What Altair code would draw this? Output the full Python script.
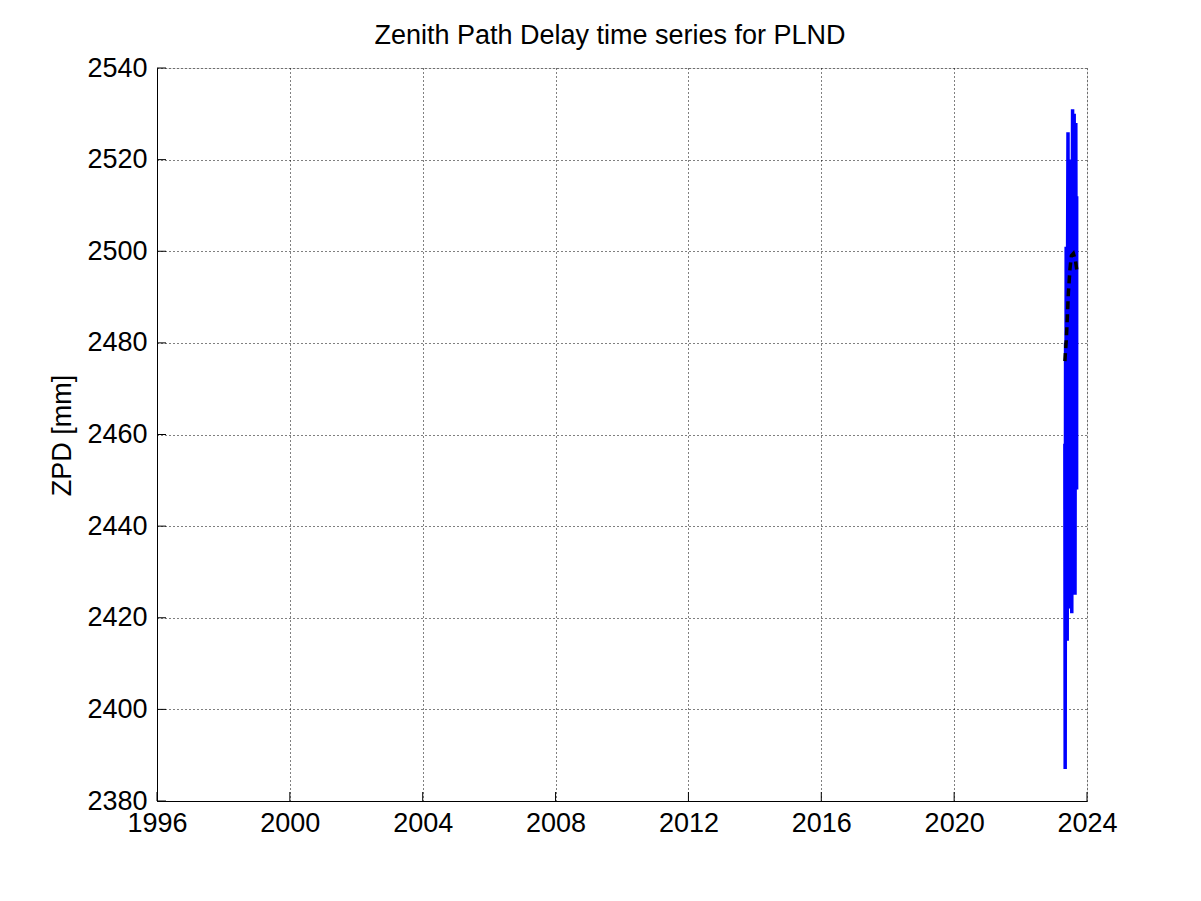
import altair as alt
import pandas as pd

# ZPD series (decimal year, mm)
zpd_time = [2023.334, 2023.343, 2023.355, 2023.364, 2023.373, 2023.386, 2023.395, 2023.404,
            2023.416, 2023.428, 2023.440, 2023.449, 2023.461, 2023.470, 2023.482, 2023.494,
            2023.506, 2023.518, 2023.530, 2023.542, 2023.554, 2023.566, 2023.578, 2023.590,
            2023.602, 2023.614, 2023.627, 2023.639, 2023.651, 2023.663, 2023.675, 2023.687,
            2023.689]
zpd_value = [2458, 2387, 2480, 2430, 2501, 2440, 2470, 2415,
             2500, 2526, 2460, 2431, 2490, 2520, 2450, 2422,
             2480, 2510, 2440, 2421, 2500, 2531, 2470, 2425,
             2490, 2530, 2460, 2425, 2505, 2528, 2470, 2448,
             2512]

# smoothed trend (black dashed)
trend_time = [2023.334, 2023.380, 2023.410, 2023.440, 2023.485, 2023.530, 2023.590, 2023.651, 2023.711]
trend_value = [2476, 2481, 2486, 2491, 2496, 2499, 2499.5, 2498, 2495]

x_ticks = [1996, 2000, 2004, 2008, 2012, 2016, 2020, 2024]
y_ticks = [2380, 2400, 2420, 2440, 2460, 2480, 2500, 2520, 2540]

W, H = 930, 733
FONT = "Liberation Sans"

xs = alt.Scale(domain=[1996, 2024], nice=False, zero=False)
ys = alt.Scale(domain=[2380, 2540], nice=False, zero=False)

zpd = pd.DataFrame({"t": zpd_time, "v": zpd_value})
trend = pd.DataFrame({"t": trend_time, "v": trend_value})
xt = pd.DataFrame({"t": x_ticks})
yt = pd.DataFrame({"v": y_ticks})

xaxis = alt.Axis(values=x_ticks, format="d", grid=True, gridDash=[1, 3], gridColor="black",
                 gridOpacity=1, gridWidth=1, ticks=False, tickSize=0, domain=True,
                 domainColor="black", domainWidth=1, labelFont=FONT, labelFontSize=27,
                 labelColor="black", labelPadding=9, labelFlush=False, labelOverlap=False,
                 title=None)
yaxis = alt.Axis(values=y_ticks, format="d", grid=True, gridDash=[1, 3], gridColor="black",
                 gridOpacity=1, gridWidth=1, ticks=False, tickSize=0, domain=True,
                 domainColor="black", domainWidth=1, labelFont=FONT, labelFontSize=27,
                 labelColor="black", labelPadding=10, labelFlush=False, labelOverlap=False,
                 title="ZPD [mm]", titleFont=FONT, titleFontSize=27, titleFontWeight="normal",
                 titleColor="black", titleAngle=270, titleX=-95, titleY=367,
                 titleAlign="center", titleBaseline="middle")

line = alt.Chart(zpd).mark_line(color="#0000ff", strokeWidth=3.5, clip=True).encode(
    x=alt.X("t:Q", scale=xs, axis=xaxis),
    y=alt.Y("v:Q", scale=ys, axis=yaxis),
    order=alt.Order("t:Q"),
)

trend_line = alt.Chart(trend).mark_line(color="black", strokeWidth=3.5,
                                        strokeDash=[8, 5]).encode(
    x=alt.X("t:Q", scale=xs),
    y=alt.Y("v:Q", scale=ys),
)

xtick = alt.Chart(xt).mark_rule(color="black", strokeWidth=1).encode(
    x=alt.X("t:Q", scale=xs),
    y=alt.value(H),
    y2=alt.value(H - 9),
)
ytick = alt.Chart(yt).mark_rule(color="black", strokeWidth=1).encode(
    y=alt.Y("v:Q", scale=ys),
    x=alt.value(0),
    x2=alt.value(9),
)

title = alt.Chart(pd.DataFrame({"s": ["Zenith Path Delay time series for PLND"]})).mark_text(
    font=FONT, fontSize=27, color="black", align="center", baseline="alphabetic"
).encode(text="s:N", x=alt.value(453), y=alt.value(-24.5))

chart = alt.layer(xtick, ytick, line, trend_line, title).properties(
    width=W, height=H,
    autosize=alt.AutoSizeParams(type="none"),
    padding={"left": 149, "top": 60, "right": 100, "bottom": 90},
).configure_view(stroke=None).configure(background="white")

chart.save("out.html", embed_options={"renderer": "svg", "actions": False})
